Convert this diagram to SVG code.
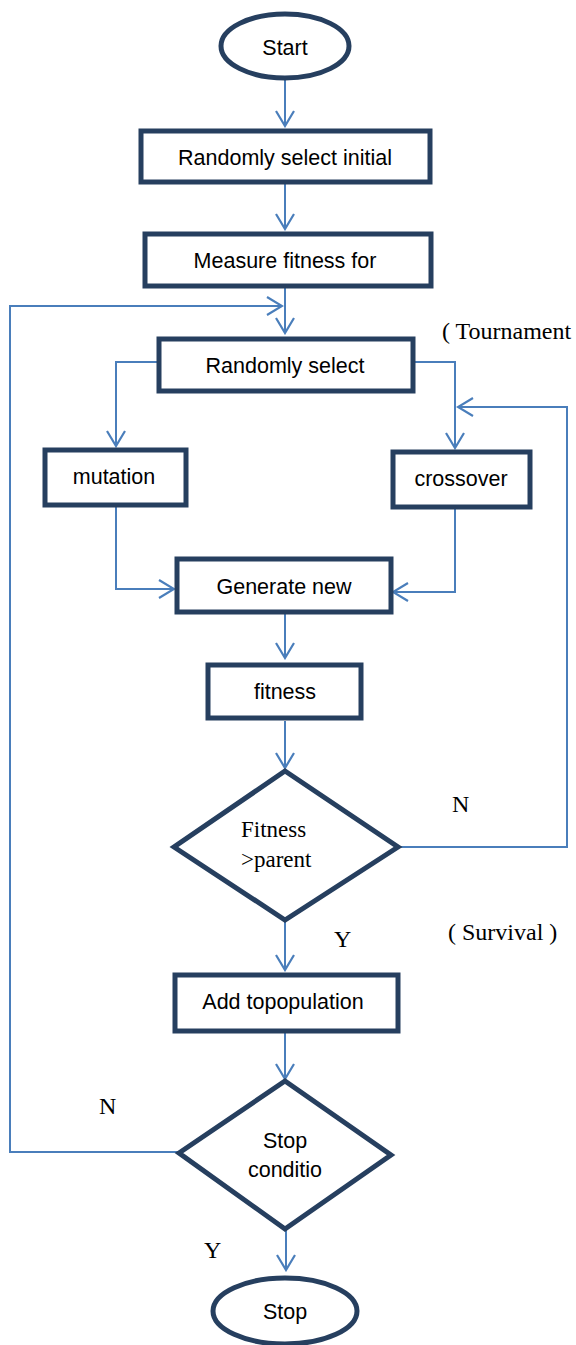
<svg xmlns="http://www.w3.org/2000/svg" width="576" height="1345" viewBox="0 0 576 1345">
<style>
.n{fill:#fff;stroke:#263f5f;stroke-width:5}
.t{font-family:"Liberation Sans",Arial,sans-serif;font-size:21.5px;fill:#000;text-anchor:middle}
.s{font-family:"Liberation Serif","Times New Roman",serif;font-size:24px;fill:#000}
.c{fill:none;stroke:#4a7ebb;stroke-width:2}
</style>
<defs>
<marker id="a" viewBox="0 0 20 20" refX="18" refY="10" markerWidth="20" markerHeight="20" orient="auto" markerUnits="userSpaceOnUse">
<path d="M3,1 L18,10 L3,19" fill="none" stroke="#4a7ebb" stroke-width="2.2"/>
</marker>
</defs>
<g id="connectors">
<path class="c" d="M285,80 V126" marker-end="url(#a)"/>
<path class="c" d="M285,183 V229" marker-end="url(#a)"/>
<path class="c" d="M285,288 V333" marker-end="url(#a)"/>
<path class="c" d="M179,1152 H10 V306 H282" marker-end="url(#a)"/>
<path class="c" d="M157,362 H116 V446" marker-end="url(#a)"/>
<path class="c" d="M415,362 H455 V448" marker-end="url(#a)"/>
<path class="c" d="M398,847 H567 V407 H458" marker-end="url(#a)"/>
<path class="c" d="M116,507 V589 H174" marker-end="url(#a)"/>
<path class="c" d="M455,509 V592 H393" marker-end="url(#a)"/>
<path class="c" d="M285,614 V658" marker-end="url(#a)"/>
<path class="c" d="M285,721 V768" marker-end="url(#a)"/>
<path class="c" d="M285,920 V970" marker-end="url(#a)"/>
<path class="c" d="M285,1033 V1079" marker-end="url(#a)"/>
<path class="c" d="M286,1230 V1270" marker-end="url(#a)"/>
</g>
<g id="start"><ellipse class="n" cx="285" cy="46" rx="64" ry="32"/><text class="t" x="285" y="55">Start</text></g>
<g id="init"><rect class="n" x="141" y="131" width="289" height="51"/><text class="t" x="285" y="165">Randomly select initial</text></g>
<g id="measure"><rect class="n" x="145" y="234" width="286" height="52"/><text class="t" x="285" y="268">Measure fitness for</text></g>
<g id="select"><rect class="n" x="159" y="339" width="254" height="52"/><text class="t" x="285" y="373">Randomly select</text></g>
<g id="mutation"><rect class="n" x="45" y="450" width="141" height="55"/><text class="t" x="114" y="484">mutation</text></g>
<g id="crossover"><rect class="n" x="393" y="452" width="137" height="55"/><text class="t" x="461" y="486">crossover</text></g>
<g id="generate"><rect class="n" x="177" y="559" width="214" height="53"/><text class="t" x="284" y="594">Generate new</text></g>
<g id="fitness"><rect class="n" x="208" y="665" width="153" height="53"/><text class="t" x="285" y="699">fitness</text></g>
<g id="cmp"><polygon class="n" points="285,771 398,847 285,920 174,847"/><text class="s" x="241" y="837" style="font-size:23px">Fitness</text><text class="s" x="241" y="867" style="font-size:23px">&gt;parent</text></g>
<g id="add"><rect class="n" x="175" y="975" width="223" height="56"/><text class="t" x="283" y="1009">Add topopulation</text></g>
<g id="stopcond"><polygon class="n" points="285,1081 391,1155 285,1229 179,1153"/><text class="t" x="285" y="1148">Stop</text><text class="t" x="285" y="1177">conditio</text></g>
<g id="stop"><ellipse class="n" cx="285" cy="1311" rx="72" ry="33"/><text class="t" x="285" y="1319">Stop</text></g>
<g id="labels">
<text class="s" x="442" y="339">( Tournament</text>
<text class="s" x="452" y="812">N</text>
<text class="s" x="334" y="947">Y</text>
<text class="s" x="448" y="940">( Survival )</text>
<text class="s" x="99" y="1114">N</text>
<text class="s" x="204" y="1258">Y</text>
</g>
</svg>
